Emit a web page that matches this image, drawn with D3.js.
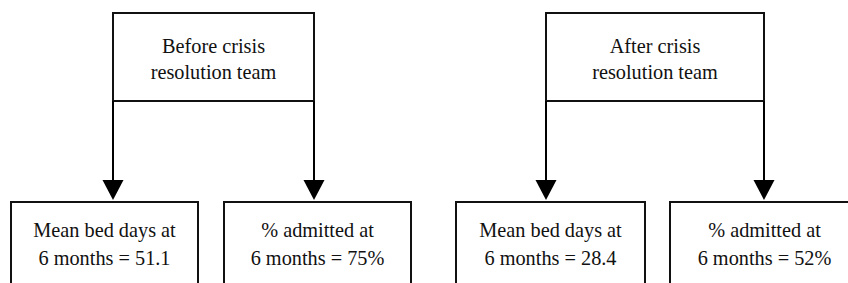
<!DOCTYPE html>
<html>
<head>
<meta charset="utf-8">
<script src="https://cdn.jsdelivr.net/npm/d3@7"></script>
<style>
  html, body { margin: 0; padding: 0; background: #fff; }
  svg { display: block; }
  text { font-family: "Liberation Serif", "Times New Roman", Times, "DejaVu Serif", "Noto Serif", serif; }
</style>
</head>
<body>
<div id="chart"></div>
<script>
'use strict';

// data
const groups = ["Before crisis resolution team", "After crisis resolution team"];
const groupLines = [["Before crisis", "resolution team"], ["After crisis", "resolution team"]];
const meanBedDays = [51.1, 28.4];
const pctAdmitted = [75, 52];
const outcomeNames = ["Mean bed days at", "% admitted at"];
const periodLabel = "6 months";

const msm = {
  width: 848,
  height: 283,
  topY: 13,
  topBottom: 101,
  headTop: 180,
  headTip: 200,
  headHalf: 10.5,
  botY: 202,
  botHeight: 120,
  fontSize: 20.3,
  lineGap: 26
}

// layout (pixel positions per group)
const topBoxX = [[113, 314], [546, 764]];
const botBoxX = [[[11, 198], [224, 411]], [[456, 645], [670, 859]]];

window.onload = function() {
  let svg = d3.select('#chart')
    .append('svg')
    .attr('width', msm.width)
    .attr('height', msm.height);

  let x = d3.scaleLinear().domain([0, msm.width]).range([0, msm.width]);
  let y = d3.scaleLinear().domain([0, msm.height]).range([0, msm.height]);

  groups.forEach((g, i) => {
    drawBox(svg, x, y, topBoxX[i][0], topBoxX[i][1], msm.topY, msm.topBottom,
      groupLines[i], [msm.topY + 39.5, msm.topY + 39.5 + msm.lineGap]);

    let outcomes = [
      [outcomeNames[0], periodLabel + " = " + meanBedDays[i].toFixed(1)],
      [outcomeNames[1], periodLabel + " = " + pctAdmitted[i] + "%"]
    ];

    // arrows from top box edges
    topBoxX[i].forEach((ax, j) => {
      svg.append('line')
        .attr('x1', x(ax)).attr('x2', x(ax))
        .attr('y1', y(msm.topBottom)).attr('y2', y(msm.headTop + 2))
        .attr('stroke', '#000')
        .attr('stroke-width', 2);
      svg.append('path')
        .attr('d', d3.line()([
          [x(ax - msm.headHalf), y(msm.headTop)],
          [x(ax + msm.headHalf), y(msm.headTop)],
          [x(ax), y(msm.headTip)]
        ]) + 'Z')
        .attr('fill', '#000');

      let bx = botBoxX[i][j];
      drawBox(svg, x, y, bx[0], bx[1], msm.botY, msm.botY + msm.botHeight,
        outcomes[j], [msm.botY + 35, msm.botY + 35 + 27.5]);
    });
  });
}

function drawBox(svg, x, y, x0, x1, y0, y1, lines, baselines) {
  svg.append('rect')
    .attr('x', x(x0))
    .attr('y', y(y0))
    .attr('width', x(x1) - x(x0))
    .attr('height', y(y1) - y(y0))
    .attr('fill', 'none')
    .attr('stroke', '#111')
    .attr('stroke-width', 2);

  svg.selectAll(null)
    .data(lines)
    .enter()
    .append('text')
      .attr('x', x((x0 + x1) / 2))
      .attr('y', (d, k) => y(baselines[k]))
      .attr('text-anchor', 'middle')
      .attr('font-size', msm.fontSize)
      .attr('fill', '#111')
      .text((d) => d);
}
</script>
</body>
</html>
